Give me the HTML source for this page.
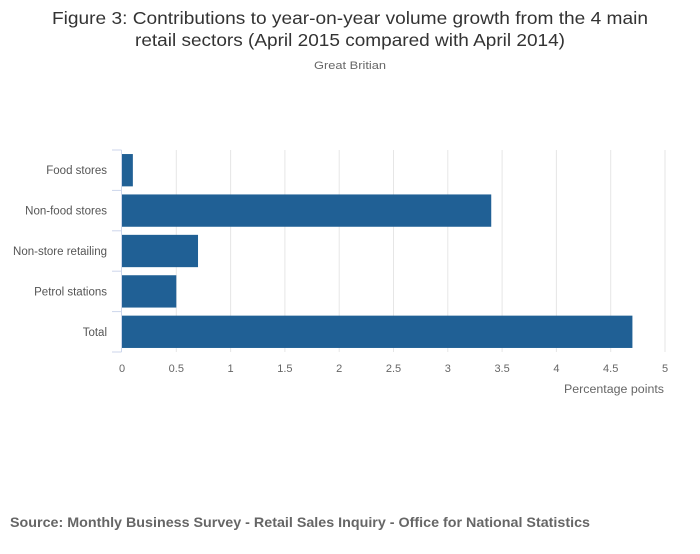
<!DOCTYPE html>
<html><head><meta charset="utf-8"><style>
body{margin:0;background:#fff;font-family:"Liberation Sans",sans-serif;}
</style></head><body>
<svg width="700" height="549" xmlns="http://www.w3.org/2000/svg">
<text x="350" y="24" text-anchor="middle" font-size="17.5" fill="#333" textLength="596" lengthAdjust="spacingAndGlyphs">Figure 3: Contributions to year-on-year volume growth from the 4 main</text>
<text x="350" y="46" text-anchor="middle" font-size="17.5" fill="#333" textLength="430" lengthAdjust="spacingAndGlyphs">retail sectors (April 2015 compared with April 2014)</text>
<text x="350" y="69" text-anchor="middle" font-size="11" fill="#666" textLength="72" lengthAdjust="spacingAndGlyphs">Great Britian</text>
<g id="grid"></g><g id="bars"></g><g id="axes"></g>
<text x="664" y="393" text-anchor="end" font-size="11.5" fill="#666" textLength="100" lengthAdjust="spacingAndGlyphs">Percentage points</text>
<text x="10" y="527" font-size="14" font-weight="bold" fill="#666" textLength="580" lengthAdjust="spacingAndGlyphs">Source: Monthly Business Survey - Retail Sales Inquiry - Office for National Statistics</text>
</svg>
<script>
const categories=["Food stores","Non-food stores","Non-store retailing","Petrol stations","Total"];
const values=[0.1,3.4,0.7,0.5,4.7];
const ticks=[0,0.5,1,1.5,2,2.5,3,3.5,4,4.5,5];
const tickLabels=["0","0.5","1","1.5","2","2.5","3","3.5","4","4.5","5"];
const NS="http://www.w3.org/2000/svg";
const x0=122,x1=665,y0=150,y1=352,xmax=5;
const xs=v=>x0+(x1-x0)*v/xmax;
const band=(y1-y0)/categories.length;
function mk(t,a,p){const e=document.createElementNS(NS,t);for(const k in a)e.setAttribute(k,a[k]);p.appendChild(e);return e;}
const grid=document.getElementById('grid'),bars=document.getElementById('bars'),axes=document.getElementById('axes');
ticks.forEach((t,i)=>{
 if(t>0){const l=mk('line',{x1:xs(t),x2:xs(t),y1:y0,y2:y1,stroke:'#e6e6e6'},grid);
 
 }
 const tx=mk('text',{x:xs(t),y:372,'text-anchor':'middle','font-size':'11',fill:'#666'},axes);
 tx.textContent=tickLabels[i];
 
 
});
categories.forEach((c,i)=>{
 const yb=y0+band*i;
 const r=mk('rect',{x:x0,y:yb+band*0.1,width:xs(values[i])-x0,height:band*0.8,fill:'#206095'},bars);
 
 
 const tx=mk('text',{x:107,y:yb+band/2+4,'text-anchor':'end','font-size':'11.5',fill:'#555'},axes);
 tx.textContent=c;
 
 
});
for(let i=0;i<=categories.length;i++){
 const y=y0+band*i;
 mk('line',{x1:112,x2:121.5,y1:y,y2:y,stroke:'#ccd6eb'},axes);
}
const ax=mk('line',{x1:121.5,x2:121.5,y1:y0,y2:y1,stroke:'#ccd6eb'},axes);


</script>
</body></html>
